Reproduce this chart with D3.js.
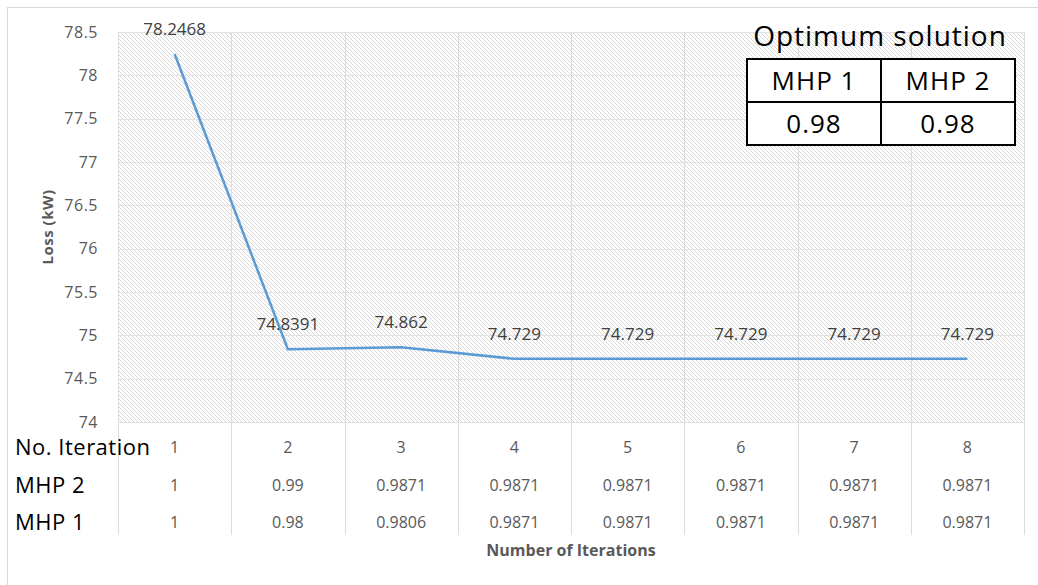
<!DOCTYPE html>
<html>
<head>
<meta charset="utf-8">
<script src="https://cdn.jsdelivr.net/npm/d3@7"></script>
<style>
  body { margin: 0; background: #fff; }
  svg text { font-family: "Open Sans", "Noto Sans", sans-serif; }
</style>
</head>
<body>
<div id="chart-container"></div>
<script>
// Data
const iterations = ["1", "2", "3", "4", "5", "6", "7", "8"];
const lossValues = [78.2468, 74.8391, 74.862, 74.729, 74.729, 74.729, 74.729, 74.729];
const lossLabels = ["78.2468", "74.8391", "74.862", "74.729", "74.729", "74.729", "74.729", "74.729"];
const mhp2Values = ["1", "0.99", "0.9871", "0.9871", "0.9871", "0.9871", "0.9871", "0.9871"];
const mhp1Values = ["1", "0.98", "0.9806", "0.9871", "0.9871", "0.9871", "0.9871", "0.9871"];
const yTicks = [74, 74.5, 75, 75.5, 76, 76.5, 77, 77.5, 78, 78.5];
const optimumHeaders = ["MHP 1", "MHP 2"];
const optimumValues = ["0.98", "0.98"];

const W = 1038, H = 585;
const plot = { left: 118, right: 1024, top: 32, bottom: 422 };

const svg = d3.select("#chart-container")
    .append("svg")
    .attr("width", W)
    .attr("height", H);

// hatch pattern
const defs = svg.append("defs");
const pat = defs.append("pattern")
    .attr("id", "hatch")
    .attr("patternUnits", "userSpaceOnUse")
    .attr("width", 4)
    .attr("height", 4);
pat.append("rect").attr("width", 4).attr("height", 4).attr("fill", "#fff");
pat.append("path")
    .attr("d", "M-1,-1 L5,5 M3,-1 L5,1 M-1,3 L1,5")
    .attr("stroke", "#d8d8d8")
    .attr("stroke-width", 1);

// outer border
svg.append("rect")
    .attr("x", 7.5).attr("y", 7.5)
    .attr("width", W + 10).attr("height", H + 10)
    .attr("fill", "none")
    .attr("stroke", "#d9d9d9");

// Scales
const xScale = d3.scaleBand()
    .domain(iterations)
    .range([plot.left, plot.right]);

const yScale = d3.scaleLinear()
    .domain([74, 78.5])
    .range([plot.bottom, plot.top]);

const cx = d => xScale(d) + xScale.bandwidth() / 2;

// plot background
svg.append("rect")
    .attr("x", plot.left).attr("y", plot.top)
    .attr("width", plot.right - plot.left)
    .attr("height", plot.bottom - plot.top)
    .attr("fill", "url(#hatch)");

// horizontal gridlines
svg.append("g")
    .selectAll("line")
    .data(yTicks)
    .enter()
    .append("line")
    .attr("x1", plot.left).attr("x2", plot.right)
    .attr("y1", d => Math.round(yScale(d)) + 0.5)
    .attr("y2", d => Math.round(yScale(d)) + 0.5)
    .attr("stroke", "#e2e2e2");

// vertical band lines (plot + data table)
const tableBottom = 535;
const bounds = iterations.map(d => xScale(d)).concat([plot.right]);
svg.append("g")
    .selectAll("line")
    .data(bounds)
    .enter()
    .append("line")
    .attr("x1", d => Math.round(d) + 0.5).attr("x2", d => Math.round(d) + 0.5)
    .attr("y1", plot.top)
    .attr("y2", tableBottom)
    .attr("stroke", "#dcdcdc");

// Y axis labels
const yAxis = svg.append("g")
    .attr("transform", `translate(${plot.left - 17},0)`)
    .call(d3.axisLeft(yScale).tickValues(yTicks).tickSize(0).tickFormat(d3.format("")));
yAxis.select(".domain").remove();
yAxis.selectAll("text")
    .attr("fill", "#595959")
    .style("font-size", "16px")
    .style("letter-spacing", "0.5px");

// Y label
svg.append("text")
    .attr("transform", "rotate(-90)")
    .attr("x", -227)
    .attr("y", 53)
    .attr("text-anchor", "middle")
    .attr("fill", "#595959")
    .style("font-size", "15px")
    .style("font-weight", "bold")
    .style("letter-spacing", "0.5px")
    .text("Loss (kW)");

// Line
const line = d3.line()
    .x((d, i) => cx(iterations[i]))
    .y(d => yScale(d));

svg.append("path")
    .datum(lossValues)
    .attr("fill", "none")
    .attr("stroke", "#5b9bd5")
    .attr("stroke-width", 2.5)
    .attr("stroke-linejoin", "round")
    .attr("d", line);

// Data labels
svg.append("g")
    .selectAll("text")
    .data(lossValues)
    .enter()
    .append("text")
    .attr("x", (d, i) => cx(iterations[i]))
    .attr("y", d => yScale(d) - 19)
    .attr("text-anchor", "middle")
    .attr("fill", "#404040")
    .style("font-size", "17px")
    .text((d, i) => lossLabels[i]);

// Data table rows
const rows = [
    { label: "No. Iteration", values: iterations, y: 447 },
    { label: "MHP 2", values: mhp2Values, y: 485 },
    { label: "MHP 1", values: mhp1Values, y: 522 }
];

rows.forEach(function(row) {
    svg.append("text")
        .attr("x", 15)
        .attr("y", row.y)
        .attr("dy", "0.35em")
        .attr("fill", "#000")
        .style("font-size", "22px")
        .style("letter-spacing", "0.5px")
        .text(row.label);

    svg.append("g")
        .selectAll("text")
        .data(row.values)
        .enter()
        .append("text")
        .attr("x", (d, i) => cx(iterations[i]))
        .attr("y", row.y)
        .attr("dy", "0.35em")
        .attr("text-anchor", "middle")
        .attr("fill", "#595959")
        .style("font-size", "16px")
        .text(d => d);
});

// X label
svg.append("text")
    .attr("x", 571)
    .attr("y", 556)
    .attr("text-anchor", "middle")
    .attr("fill", "#595959")
    .style("font-size", "16px")
    .style("font-weight", "bold")
    .text("Number of Iterations");

// Optimum solution box
const box = { x: 747, y: 59, w: 268, h: 86 };
svg.append("text")
    .attr("x", 880)
    .attr("y", 46)
    .attr("text-anchor", "middle")
    .attr("fill", "#000")
    .style("font-size", "28px")
    .style("letter-spacing", "1px")
    .text("Optimum solution");

const boxX = d3.scaleBand()
    .domain(optimumHeaders)
    .range([box.x, box.x + box.w]);

svg.append("rect")
    .attr("x", box.x).attr("y", box.y)
    .attr("width", box.w).attr("height", box.h)
    .attr("fill", "#fff")
    .attr("stroke", "#000")
    .attr("stroke-width", 2);
svg.append("line")
    .attr("x1", box.x + box.w / 2).attr("x2", box.x + box.w / 2)
    .attr("y1", box.y).attr("y2", box.y + box.h)
    .attr("stroke", "#000").attr("stroke-width", 2);
svg.append("line")
    .attr("x1", box.x).attr("x2", box.x + box.w)
    .attr("y1", box.y + box.h / 2).attr("y2", box.y + box.h / 2)
    .attr("stroke", "#000").attr("stroke-width", 2);

svg.append("g")
    .selectAll("text")
    .data(optimumHeaders)
    .enter()
    .append("text")
    .attr("x", d => boxX(d) + boxX.bandwidth() / 2)
    .attr("y", box.y + box.h / 4)
    .attr("dy", "0.35em")
    .attr("text-anchor", "middle")
    .style("font-size", "26px")
    .style("letter-spacing", "1px")
    .text(d => d);

svg.append("g")
    .selectAll("text")
    .data(optimumValues)
    .enter()
    .append("text")
    .attr("x", (d, i) => boxX(optimumHeaders[i]) + boxX.bandwidth() / 2)
    .attr("y", box.y + box.h * 3 / 4)
    .attr("dy", "0.35em")
    .attr("text-anchor", "middle")
    .style("font-size", "26px")
    .style("letter-spacing", "1px")
    .text(d => d);
</script>
</body>
</html>
